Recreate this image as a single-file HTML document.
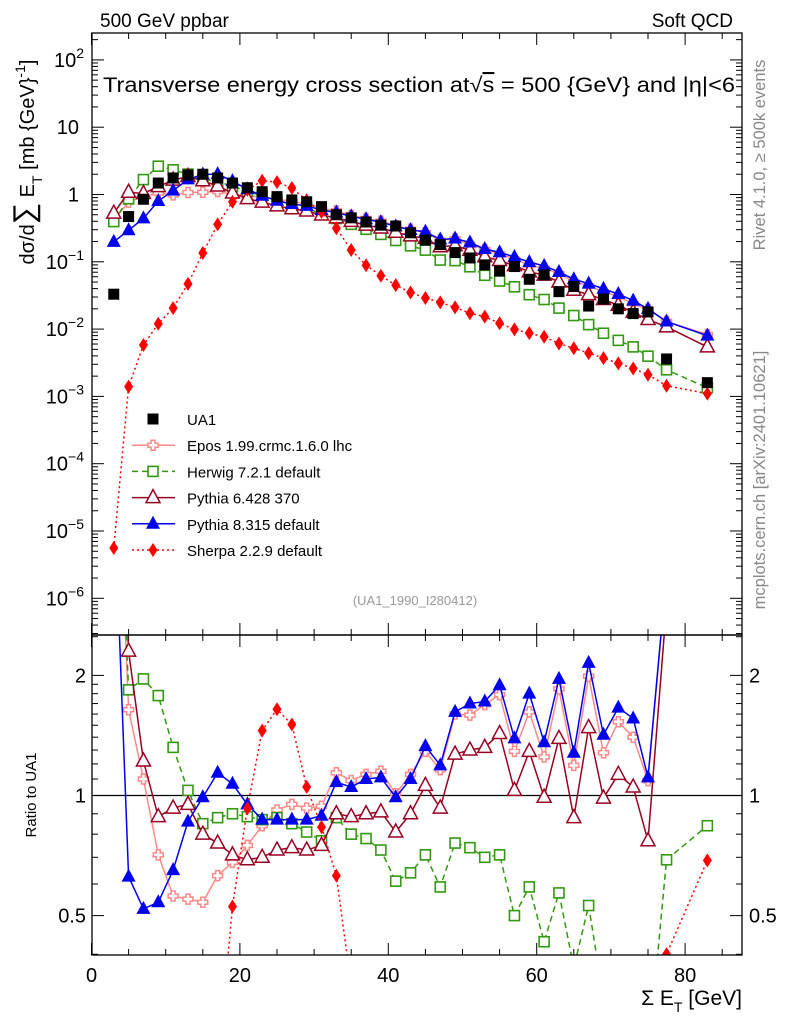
<!DOCTYPE html>
<html><head><meta charset="utf-8"><style>
html,body{margin:0;padding:0;background:#fff;overflow:hidden;width:786px;height:1024px;}
svg{display:block;font-family:"Liberation Sans",sans-serif;}
</style></head><body>
<svg id="chart" width="786" height="1024" viewBox="0 0 786 1024" xmlns="http://www.w3.org/2000/svg">
<defs>
<clipPath id="clipMain"><rect x="92" y="33" width="650" height="602"/></clipPath>
<clipPath id="clipRatio"><rect x="92" y="635" width="650" height="320"/></clipPath>
</defs>
<g id="axes"></g>
<g id="marks"></g>
<rect x="92" y="33" width="650" height="602" fill="none" stroke="#000" stroke-width="1.3"/>
<rect x="92" y="635" width="650" height="320" fill="none" stroke="#000" stroke-width="1.3"/>
<text x="100" y="27" font-size="19">500 GeV ppbar</text>
<text x="733" y="27" font-size="19" text-anchor="end">Soft QCD</text>
<text x="103" y="92" font-size="21" textLength="632" lengthAdjust="spacingAndGlyphs">Transverse energy cross section at√<tspan text-decoration="overline">s</tspan> = 500 {GeV} and |η|&lt;6</text>
<text transform="translate(34,162) rotate(-90)" font-size="20" text-anchor="middle">dσ/d<tspan font-size="30">∑</tspan> E<tspan font-size="14" dy="8">T</tspan><tspan dy="-8"> [mb {GeV}</tspan><tspan font-size="14" dy="-9">-1</tspan><tspan dy="9">]</tspan></text>
<text transform="translate(36,795) rotate(-90)" font-size="15" text-anchor="middle">Ratio to UA1</text>
<text x="742" y="1005" font-size="21" text-anchor="end">Σ E<tspan font-size="14" dy="7">T</tspan><tspan dy="-7"> [GeV]</tspan></text>
<text transform="translate(765,155) rotate(-90)" font-size="16.5" fill="#888" text-anchor="middle">Rivet 4.1.0, ≥ 500k events</text>
<text transform="translate(765,480) rotate(-90)" font-size="16.5" fill="#888" text-anchor="middle">mcplots.cern.ch [arXiv:2401.10621]</text>
<text x="415" y="605" font-size="13" fill="#999" text-anchor="middle">(UA1_1990_I280412)</text>
<g id="legend"></g>
</svg>
<script>
const xs = [3,5,7,9,11,13,15,17,19,21,23,25,27,29,31,33,35,37,39,41,43,45,47,49,51,53,55,57,59,61,63,65,67,69,71,73,75,77.5,83];
const ua1 = [0.033,0.47,0.85,1.48,1.76,1.95,2.0,1.76,1.48,1.26,1.1,0.93,0.83,0.78,0.66,0.50,0.45,0.39,0.35,0.34,0.27,0.21,0.18,0.137,0.114,0.09,0.073,0.085,0.055,0.064,0.036,0.043,0.022,0.028,0.020,0.017,0.018,0.0036,0.0016];
const eposRatio = [12.7,1.64,1.10,0.71,0.56,0.55,0.54,0.63,0.68,0.75,0.84,0.92,0.95,0.93,0.94,1.14,1.09,1.13,1.15,1.01,1.13,1.29,1.16,1.60,1.59,1.69,1.79,1.29,1.62,1.25,1.85,1.19,1.99,1.28,1.53,1.40,1.09,3.6,5.2];
const herwigRatio = [12.0,1.84,1.96,1.78,1.32,1.03,0.85,0.88,0.90,0.885,0.87,0.88,0.85,0.81,0.77,0.88,0.80,0.78,0.73,0.61,0.64,0.71,0.59,0.76,0.74,0.70,0.71,0.50,0.59,0.43,0.57,0.37,0.53,0.31,0.34,0.32,0.22,0.69,0.84];
const py6Ratio = [16.0,2.3,1.22,0.885,0.93,0.95,0.80,0.76,0.71,0.69,0.70,0.73,0.74,0.73,0.75,0.90,0.885,0.90,0.91,0.81,0.90,1.06,0.93,1.27,1.30,1.32,1.43,1.03,1.29,0.99,1.39,0.88,1.48,0.985,1.13,1.05,0.77,3.0,3.4];
const py8Ratio = [6.0,0.626,0.52,0.54,0.65,0.86,0.99,1.14,1.07,0.95,0.87,0.87,0.87,0.87,0.89,1.08,1.05,1.10,1.11,0.99,1.10,1.33,1.19,1.62,1.70,1.72,1.89,1.39,1.80,1.36,1.96,1.28,2.15,1.42,1.66,1.56,1.11,3.6,5.0];
const sherpa = [5.6e-6,0.0014,0.0058,0.012,0.0205,0.047,0.135,0.36,0.78,1.17,1.6,1.53,1.25,0.82,0.55,0.315,0.15,0.089,0.062,0.045,0.035,0.029,0.025,0.021,0.0172,0.0153,0.0122,0.0099,0.0087,0.0077,0.0061,0.0052,0.0044,0.0037,0.0031,0.0026,0.0021,0.00144,0.0011];
const xTickLabels = ["0","20","40","60","80"];
const yTickLabels = ["10^2","10","1","10^-1","10^-2","10^-3","10^-4","10^-5","10^-6"];
const ratioTickLabels = ["0.5","1","2"];

const NS="http://www.w3.org/2000/svg";
const X0=91.5, XS=7.42;
function xp(v){return X0+XS*v;}
function yMain(v){return 194.5-67.3*Math.log10(v);}
function yRat(r){return 795.5-399*Math.log10(r);}
function mk(tag,attrs,parent){const e=document.createElementNS(NS,tag);for(const k in attrs)e.setAttribute(k,attrs[k]);parent.appendChild(e);return e;}
const axes=document.getElementById('axes'), marks=document.getElementById('marks'), legend=document.getElementById('legend');

for(let v=0;v<=85;v+=5){
  const major=v%20===0, L=major?12:6, x=xp(v);
  for(const [yb,dir] of [[635,-1],[33,1],[955,-1],[635,1]]){
    const t=mk('line',{x1:x,x2:x,y1:yb,y2:yb+dir*L,stroke:'#000','stroke-width':1},axes);
    
    
  }
}
xTickLabels.forEach((s)=>{
  const t=mk('text',{x:xp(+s),y:982,'font-size':20,'text-anchor':'middle'},axes);t.textContent=s;
  
  
});
for(let e=-7;e<=2;e++){
  for(let m=1;m<=9;m++){
    const v=m*Math.pow(10,e), y=yMain(v);
    if(y<33||y>635)continue;
    const L=m===1?12:6;
    const a=mk('line',{x1:92,x2:92+L,y1:y,y2:y,stroke:'#000','stroke-width':1},axes);
    
    
    const b=mk('line',{x1:742,x2:742-L,y1:y,y2:y,stroke:'#000','stroke-width':1},axes);
    
    
  }
}
yTickLabels.forEach((s)=>{
  let base,exp=null;
  if(s.indexOf('^')>=0){base=s.split('^')[0];exp=s.split('^')[1];}else base=s;
  const val=exp===null?+base:Math.pow(10,+exp);
  const y=yMain(val);
  const t=mk('text',{x:exp===null?79:84,y:y+7,'font-size':20,'text-anchor':'end'},axes);
  
  
  t.textContent=base;
  if(exp!==null){const sp=mk('tspan',{'font-size':14,dy:-9},t);sp.textContent=exp.replace('-','−');}
});
const rt=[0.4,0.5,0.6,0.7,0.8,0.9,1,1.1,1.2,1.3,1.4,1.5,1.6,1.7,1.8,1.9,2,2.5];
rt.forEach(r=>{
  const y=yRat(r); const L=(r===0.5||r===1||r===2)?12:6;
  const a=mk('line',{x1:92,x2:92+L,y1:y,y2:y,stroke:'#000','stroke-width':1},axes);
  
  
  const b=mk('line',{x1:742,x2:742-L,y1:y,y2:y,stroke:'#000','stroke-width':1},axes);
  
  
});
ratioTickLabels.forEach(s=>{
  const y=yRat(+s);
  const a=mk('text',{x:86,y:y+7,'font-size':20,'text-anchor':'end'},axes);a.textContent=s;
  
  
  const b=mk('text',{x:749,y:y+7,'font-size':20},axes);b.textContent=s;
  
  
});
const one=mk('line',{x1:92,x2:742,y1:yRat(1),y2:yRat(1),stroke:'#000','stroke-width':1.2},axes);



function marker(g,shape,x,y,color){
  let e;
  if(shape==='fsq'){e=mk('rect',{x:x-5.5,y:y-5.5,width:11,height:11,fill:'#000'},g);}
  else if(shape==='osq'){e=mk('rect',{x:x-5,y:y-5,width:10,height:10,fill:'#fff',stroke:color,'stroke-width':1.6},g);}
  else if(shape==='cross'){const a=2,b=5;e=mk('polygon',{points:[[x-a,y-b],[x+a,y-b],[x+a,y-a],[x+b,y-a],[x+b,y+a],[x+a,y+a],[x+a,y+b],[x-a,y+b],[x-a,y+a],[x-b,y+a],[x-b,y-a],[x-a,y-a]].map(p=>p.join(',')).join(' '),fill:'#fff',stroke:color,'stroke-width':1.5},g);}
  else if(shape==='otri'){e=mk('polygon',{points:`${x},${y-8} ${x+7},${y+5} ${x-7},${y+5}`,fill:'#fff',stroke:color,'stroke-width':1.5},g);}
  else if(shape==='ftri'){e=mk('polygon',{points:`${x},${y-8} ${x+7},${y+5} ${x-7},${y+5}`,fill:color},g);}
  else if(shape==='dia'){e=mk('polygon',{points:`${x},${y-7} ${x+4.5},${y} ${x},${y+7} ${x-4.5},${y}`,fill:color},g);}
  return e;
}
const series=[
  {name:'epos',label:'Epos 1.99.crmc.1.6.0 lhc',color:'#ff8888',shape:'cross',dash:'',ratio:eposRatio},
  {name:'herwig',label:'Herwig 7.2.1 default',color:'#339911',shape:'osq',dash:'6,4',ratio:herwigRatio},
  {name:'pythia6',label:'Pythia 6.428 370',color:'#990022',shape:'otri',dash:'',ratio:py6Ratio},
  {name:'pythia8',label:'Pythia 8.315 default',color:'#0000ee',shape:'ftri',dash:'',ratio:py8Ratio},
  {name:'sherpa',label:'Sherpa 2.2.9 default',color:'#ff0000',shape:'dia',dash:'2,3',main:sherpa},
];
series.forEach(s=>{
  const mainVals = s.main ? s.main : s.ratio.map((r,i)=>r*ua1[i]);
  const ratVals = s.ratio ? s.ratio : s.main.map((v,i)=>v/ua1[i]);
  const gm=mk('g',{'clip-path':'url(#clipMain)'},marks);
  
  
  const pl=mk('polyline',{points:xs.map((x,i)=>xp(x)+','+yMain(mainVals[i])).join(' '),fill:'none',stroke:s.color,'stroke-width':1.5,'stroke-dasharray':s.dash},gm);
  
  
  xs.forEach((x,i)=>{const m=marker(gm,s.shape,xp(x),yMain(mainVals[i]),s.color);
    
    });
  const gr=mk('g',{'clip-path':'url(#clipRatio)'},marks);
  
  
  const pr=mk('polyline',{points:xs.map((x,i)=>xp(x)+','+yRat(ratVals[i])).join(' '),fill:'none',stroke:s.color,'stroke-width':1.5,'stroke-dasharray':s.dash},gr);
  
  
  xs.forEach((x,i)=>{const m=marker(gr,s.shape,xp(x),yRat(ratVals[i]),s.color);
    
    });
});
const gd=mk('g',{'clip-path':'url(#clipMain)'},marks);


xs.forEach((x,i)=>{const m=marker(gd,'fsq',xp(x),yMain(ua1[i]),'#000');
  
  });

const legItems=[{label:'UA1',shape:'fsq',color:'#000',dash:null}].concat(series);
legItems.forEach((s,i)=>{
  const y=419+26.2*i;
  const g=mk('g',{},legend);
  
  
  if(s.dash!==null){mk('line',{x1:132,x2:175,y1:y,y2:y,stroke:s.color,'stroke-width':1.5,'stroke-dasharray':s.dash},g);}
  marker(g,s.shape,153,y,s.color);
  const t=mk('text',{x:187,y:y+6,'font-size':15},g);t.textContent=s.label;
});
</script>
</body></html>
